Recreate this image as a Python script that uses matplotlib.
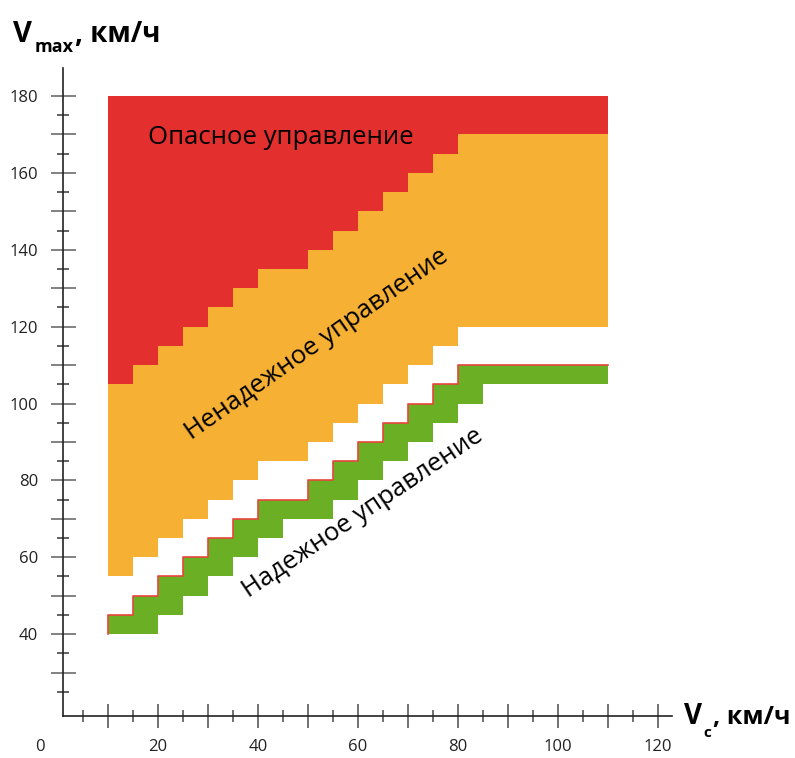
import numpy as np
import matplotlib
matplotlib.use("Agg")
import matplotlib.pyplot as plt
import matplotlib.transforms as mtransforms

plt.rcParams['font.family'] = ['Open Sans', 'DejaVu Sans']

# границы зон (ступеньки, step='post')
x_steps = [10, 15, 20, 25, 30, 35, 40, 50, 55, 60, 65, 70, 75, 80, 110]
danger_low = [105, 110, 115, 120, 125, 130, 135, 140, 145, 150, 155, 160, 165, 170, 170]
unreliable_low = [55, 60, 65, 70, 75, 80, 85, 90, 95, 100, 105, 110, 115, 120, 120]
reliable_high = [45, 50, 55, 60, 65, 70, 75, 80, 85, 90, 95, 100, 105, 110, 110]
x_reliable_low = [10, 20, 25, 30, 35, 40, 45, 55, 60, 65, 70, 75, 80, 85, 110]
reliable_low = [40, 45, 50, 55, 60, 65, 70, 75, 80, 85, 90, 95, 100, 105, 105]
v_top = 180

x_major = list(range(10, 121, 10))
x_labels = ['' if v % 20 else str(v) for v in x_major]
y_major = list(range(30, 181, 10))
y_labels = ['' if v % 20 else str(v) for v in y_major]

red = '#E32F2E'
orange = '#F6B033'
green = '#6BAF24'

fig = plt.figure(figsize=(7.95, 7.58), dpi=100)
W, H = 795, 758
ax = fig.add_axes([63 / W, 42 / H, 609 / W, 648 / H])
ax.set_xlim(1, 122.8)
ax.set_ylim(18.7, 187.3)


def step_at(xs, ys, xq):
    idx = np.searchsorted(xs, xq, side='right') - 1
    idx = np.clip(idx, 0, len(ys) - 1)
    return np.asarray(ys)[idx]


ax.fill_between(x_steps, danger_low, v_top, step='post', color=red, lw=0)
ax.fill_between(x_steps, unreliable_low, danger_low, step='post', color=orange, lw=0)

xu = np.union1d(x_steps, x_reliable_low)
g_top = step_at(x_steps, reliable_high, xu)
g_low = step_at(x_reliable_low, reliable_low, xu)
ax.fill_between(xu, g_low, g_top, step='post', color=green, lw=0)
ax.step([x_steps[0]] + x_steps, [reliable_low[0]] + reliable_high, where='post',
        color='#E8453C', lw=1.2)

# подписи зон
ax.text(44.6, 169.3, 'Опасное управление', fontsize=18.5, ha='center', va='center')
ax.text(51.8, 115.5, 'Ненадежное управление', fontsize=18.5, rotation=35,
        rotation_mode='anchor', ha='center', va='center')
ax.text(61, 71.5, 'Надежное управление', fontsize=18.5, rotation=34,
        rotation_mode='anchor', ha='center', va='center')

# оси
for s in ['top', 'right']:
    ax.spines[s].set_visible(False)
for s in ['left', 'bottom']:
    ax.spines[s].set_linewidth(1.2)
    ax.spines[s].set_color('#222222')

ax.set_xticks(x_major)
ax.set_xticklabels(x_labels)
ax.set_xticks(range(5, 120, 10), minor=True)
ax.set_yticks(y_major)
ax.set_yticklabels(y_labels)
ax.set_yticks(range(25, 180, 10), minor=True)

ax.tick_params(axis='x', which='major', direction='inout', length=17, width=1.3,
               color='#666666', pad=8, labelsize=12, labelcolor='#222222')
ax.tick_params(axis='x', which='minor', direction='inout', length=8, width=1.3,
               color='#666666')
ax.tick_params(axis='y', which='major', direction='inout', length=18, width=1.3,
               color='#777777', pad=9, labelsize=12, labelcolor='#222222')
ax.tick_params(axis='y', which='minor', direction='inout', length=9, width=1.3,
               color='#555555')
for v, t in zip(y_major, ax.yaxis.get_major_ticks()):
    if v % 20 == 0:
        t.tick1line.set_color('#111111')

# "0" под началом оси
off = mtransforms.ScaledTranslation(0, -(17 / 2 + 8) / 72, fig.dpi_scale_trans)
ax.text(-3.6, 0, '0', transform=ax.get_xaxis_transform() + off, fontsize=12,
        color='#222222', ha='center', va='top')

# подписи осей
fig.text(13 / W, 1 - 42 / H, 'V', fontsize=21, fontweight='bold', va='baseline')
fig.text(35 / W, 1 - 52 / H, 'max', fontsize=13, fontweight='bold', va='baseline')
fig.text(75 / W, 1 - 42 / H, ', км/ч', fontsize=20, fontweight='bold', va='baseline')

fig.text(684 / W, 1 - 724 / H, 'V', fontsize=20, fontweight='bold', va='baseline')
fig.text(703 / W, 1 - 737 / H, 'c', fontsize=11, fontweight='bold', va='baseline')
fig.text(713 / W, 1 - 724 / H, ', км/ч', fontsize=18, fontweight='bold', va='baseline')

fig.savefig('out.png', dpi=100)
